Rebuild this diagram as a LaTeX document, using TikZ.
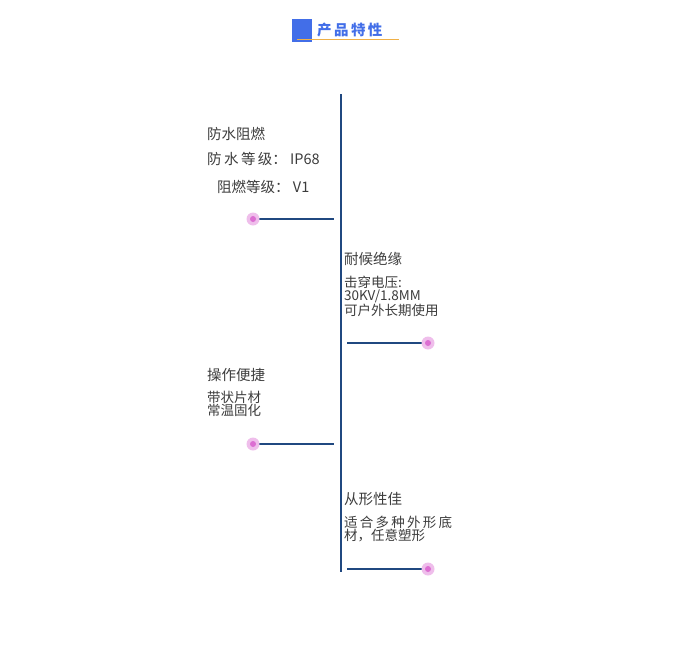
\documentclass[tikz,border=0pt]{standalone}
\usepackage{fontspec}
\setmainfont{Noto Sans CJK SC}
\definecolor{axisblue}{RGB}{32,72,128}
\definecolor{headblue}{RGB}{66,110,232}
\definecolor{headline}{RGB}{240,176,70}
\definecolor{dotpink}{RGB}{220,110,210}
\definecolor{txtgray}{RGB}{60,60,60}
\tikzset{
  title/.style={anchor=west, text=txtgray, font=\fontsize{14.5}{16}\selectfont, inner sep=0pt},
  body/.style={anchor=north west, text=txtgray, font=\fontsize{13.5}{13}\selectfont, inner sep=0pt, align=left},
  arm/.style={line width=1.6pt, draw=axisblue},
  dot/.style={circle, minimum size=13pt, inner sep=0pt, fill=dotpink!45, draw=none},
  core/.style={circle, minimum size=6pt, inner sep=0pt, fill=dotpink},
}
\begin{document}
\begin{tikzpicture}[x=1pt,y=-1pt]
\useasboundingbox (0,0) rectangle (679,653);
% header
\fill[headblue] (292,19) rectangle (312,42);
\draw[headline, line width=0.8pt] (297,39.5) -- (399,39.5);
\node[text=headblue, font=\bfseries\fontsize{14.5}{14.5}\selectfont, anchor=west, inner sep=0pt] (head) at (317,30) {产\,品\,特\,性};
% axis
\coordinate (top) at (341,94);
\coordinate (bot) at (341,572);
\draw[axisblue, line width=1.2pt] (top) -- (bot);
% left items
\coordinate (e1) at (334,219);
\draw[arm] (253,219) -- (e1);
\node[dot] (d1) at (253,219) {}; \node[core] at (d1) {};
\node[title] (t1) at (207,134) {防水阻燃};
\node[title] (s1) at (207,159) {防\,水\,等\,级： IP68};
\node[title] (s2) at (217,187) {阻燃等级： V1};
\coordinate (e3) at (334,444);
\draw[arm] (253,444) -- (e3);
\node[dot] (d3) at (253,444) {}; \node[core] at (d3) {};
\node[title] (t3) at (207,375) {操作便捷};
\node[body] (b3) at (207,391) {带状片材\\常温固化};
% right items
\coordinate (e2) at (347,343);
\draw[arm] (e2) -- (428,343);
\node[dot] (d2) at (428,343) {}; \node[core] at (d2) {};
\node[title] (t2) at (344,259) {耐候绝缘};
\node[body] (b2) at (344,276) {击穿电压:\\30KV/1.8MM\\可户外长期使用};
\coordinate (e4) at (347,569);
\draw[arm] (e4) -- (428,569);
\node[dot] (d4) at (428,569) {}; \node[core] at (d4) {};
\node[title] (t4) at (344,499) {从形性佳};
\node[body] (b4) at (344,516) {适\,合\,多\,种\,外\,形\,底\\材，任意塑形};
\end{tikzpicture}
\end{document}
